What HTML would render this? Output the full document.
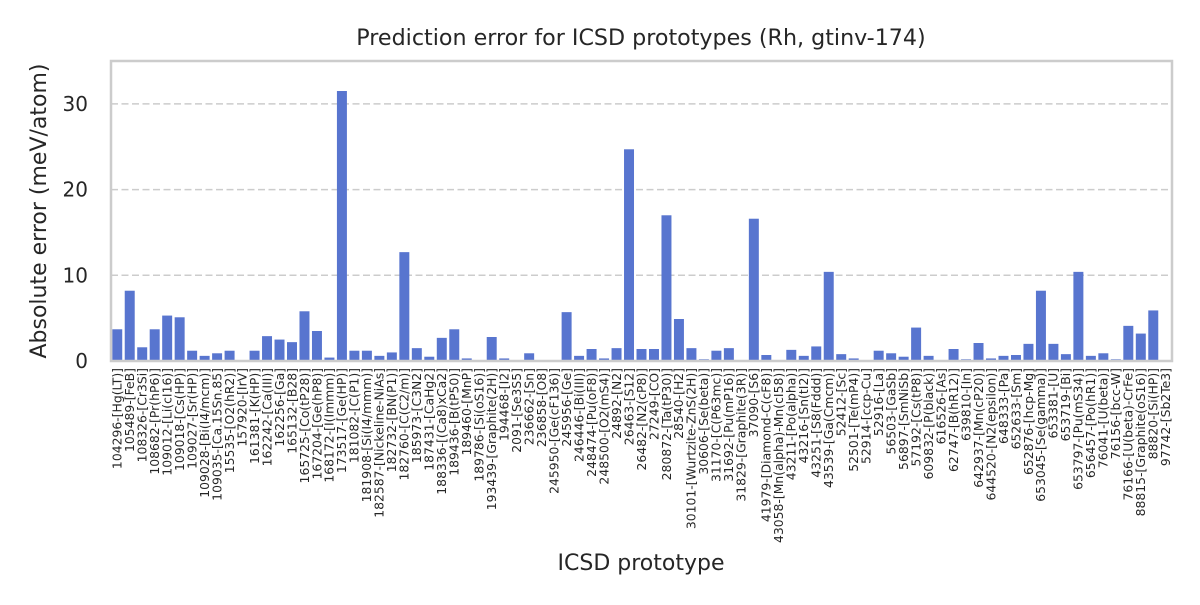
<!DOCTYPE html>
<html><head><meta charset="utf-8"><style>
body{margin:0;background:#fff;font-family:"Liberation Sans","DejaVu Sans",sans-serif}
</style></head><body>
<svg id="chart" width="1200" height="600" xmlns="http://www.w3.org/2000/svg" font-family="DejaVu Sans, Liberation Sans, sans-serif">
<rect width="1200" height="600" fill="#fff"/>
<text x="641" y="45" text-anchor="middle" font-size="22.2" fill="#262626">Prediction error for ICSD prototypes (Rh, gtinv-174)</text>
<text x="641" y="570" text-anchor="middle" font-size="22" fill="#262626">ICSD prototype</text>
<text transform="translate(46,211) rotate(-90)" text-anchor="middle" font-size="22" fill="#262626">Absolute error (meV/atom)</text>
<g id="grid"></g><g id="bars"></g><g id="yticks"></g><g id="xticks"></g>
<rect x="111" y="61" width="1061" height="300" fill="none" stroke="#cccccc" stroke-width="2.5"/>
</svg>
<script>
const categories=["104296-[Hg(LT)]","105489-[FeB]","108326-[Cr3Si]","108682-[Pr(hP6)]","109012-[Li(cI16)]","109018-[Cs(HP)]","109027-[Sr(HP)]","109028-[Bi(I4/mcm)]","109035-[Ca.15Sn.85]","15535-[O2(hR2)]","157920-[IrV]","161381-[K(HP)]","162242-[Ca(III)]","162256-[Ga]","165132-[B28]","165725-[Co(tP28)]","167204-[Ge(hP8)]","168172-[I(Immm)]","173517-[Ge(HP)]","181082-[C(P1)]","181908-[Si(I4/mmm)]","182587-[Nickeline-NiAs]","182732-[BN(P1)]","182760-[C(C2/m)]","185973-[C3N2]","187431-[CaHg2]","188336-[(Ca8)xCa2]","189436-[B(tP50)]","189460-[MnP]","189786-[Si(oS16)]","193439-[Graphite(2H)]","194468-[I2]","2091-[Se3S5]","236662-[Sn]","236858-[O8]","245950-[Ge(cF136)]","245956-[Ge]","246446-[Bi(III)]","248474-[Pu(oF8)]","248500-[O2(mS4)]","24892-[N2]","26463-[S12]","26482-[N2(cP8)]","27249-[CO]","280872-[Ta(tP30)]","28540-[H2]","30101-[Wurtzite-ZnS(2H)]","30606-[Se(beta)]","31170-[C(P63mc)]","31692-[Pu(mP16)]","31829-[Graphite(3R)]","37090-[S6]","41979-[Diamond-C(cF8)]","43058-[Mn(alpha)-Mn(cI58)]","43211-[Po(alpha)]","43216-[Sn(tI2)]","43251-[S8(Fddd)]","43539-[Ga(Cmcm)]","52412-[Sc]","52501-[Te(mP4)]","52914-[ccp-Cu]","52916-[La]","56503-[GaSb]","56897-[SmNiSb]","57192-[Cs(tP8)]","609832-[P(black)]","616526-[As]","62747-[B(hR12)]","639810-[In]","642937-[Mn(cP20)]","644520-[N2(epsilon)]","648333-[Pa]","652633-[Sm]","652876-[hcp-Mg]","653045-[Se(gamma)]","653381-[U]","653719-[Bi]","653797-[Pu(mS34)]","656457-[Po(hR1)]","76041-[U(beta)]","76156-[bcc-W]","76166-[U(beta)-CrFe]","88815-[Graphite(oS16)]","88820-[Si(HP)]","97742-[Sb2Te3]"];
const errors=[3.7,8.2,1.6,3.7,5.3,5.1,1.2,0.6,0.9,1.2,0.05,1.2,2.9,2.5,2.2,5.8,3.5,0.4,31.5,1.2,1.2,0.6,1.0,12.7,1.5,0.5,2.7,3.7,0.3,0.05,2.8,0.3,0.05,0.9,0,0,5.7,0.6,1.4,0.3,1.5,24.7,1.4,1.4,17.0,4.9,1.5,0.2,1.2,1.5,0.1,16.6,0.7,0,1.3,0.6,1.7,10.4,0.8,0.3,0.1,1.2,0.9,0.5,3.9,0.6,0.1,1.4,0.2,2.1,0.3,0.6,0.7,2.0,8.2,2.0,0.8,10.4,0.6,0.9,0.2,4.1,3.2,5.9,0];
const yTicks=[0,10,20,30];
const NS="http://www.w3.org/2000/svg";
const X0=111,X1=1172,Y0=361,YMAX=35;
const step=(X1-X0)/categories.length;
const xc=i=>X0+step*(i+0.5);
const y=v=>Y0-(v/YMAX)*300;
function mk(t,a,p){const e=document.createElementNS(NS,t);for(const k in a)e.setAttribute(k,a[k]);p.appendChild(e);return e;}
const grid=document.getElementById('grid'),yt=document.getElementById('yticks');
yTicks.forEach(v=>{
  if(v>0){const l=mk('line',{x1:X0,x2:X1,y1:y(v),y2:y(v),stroke:'#cccccc','stroke-width':1.5,'stroke-dasharray':'7,3.5'},grid);
  
  }
  const t=mk('text',{x:88,y:y(v)+7,'text-anchor':'end','font-size':20,fill:'#262626'},yt);
  t.textContent=v;
  
  
});
const bars=document.getElementById('bars'),xt=document.getElementById('xticks');
categories.forEach((c,i)=>{
  const v=errors[i],w=step*0.8;
  const r=mk('rect',{x:xc(i)-w/2,y:y(v),width:w,height:Y0-y(v),fill:'#5875cf'},bars);
  
  
  const t=mk('text',{transform:`translate(${xc(i)+4.3},368) rotate(-90)`,'text-anchor':'end','font-size':12.4,fill:'#262626'},xt);
  t.textContent=c;
  
  
});
</script>
</body></html>
